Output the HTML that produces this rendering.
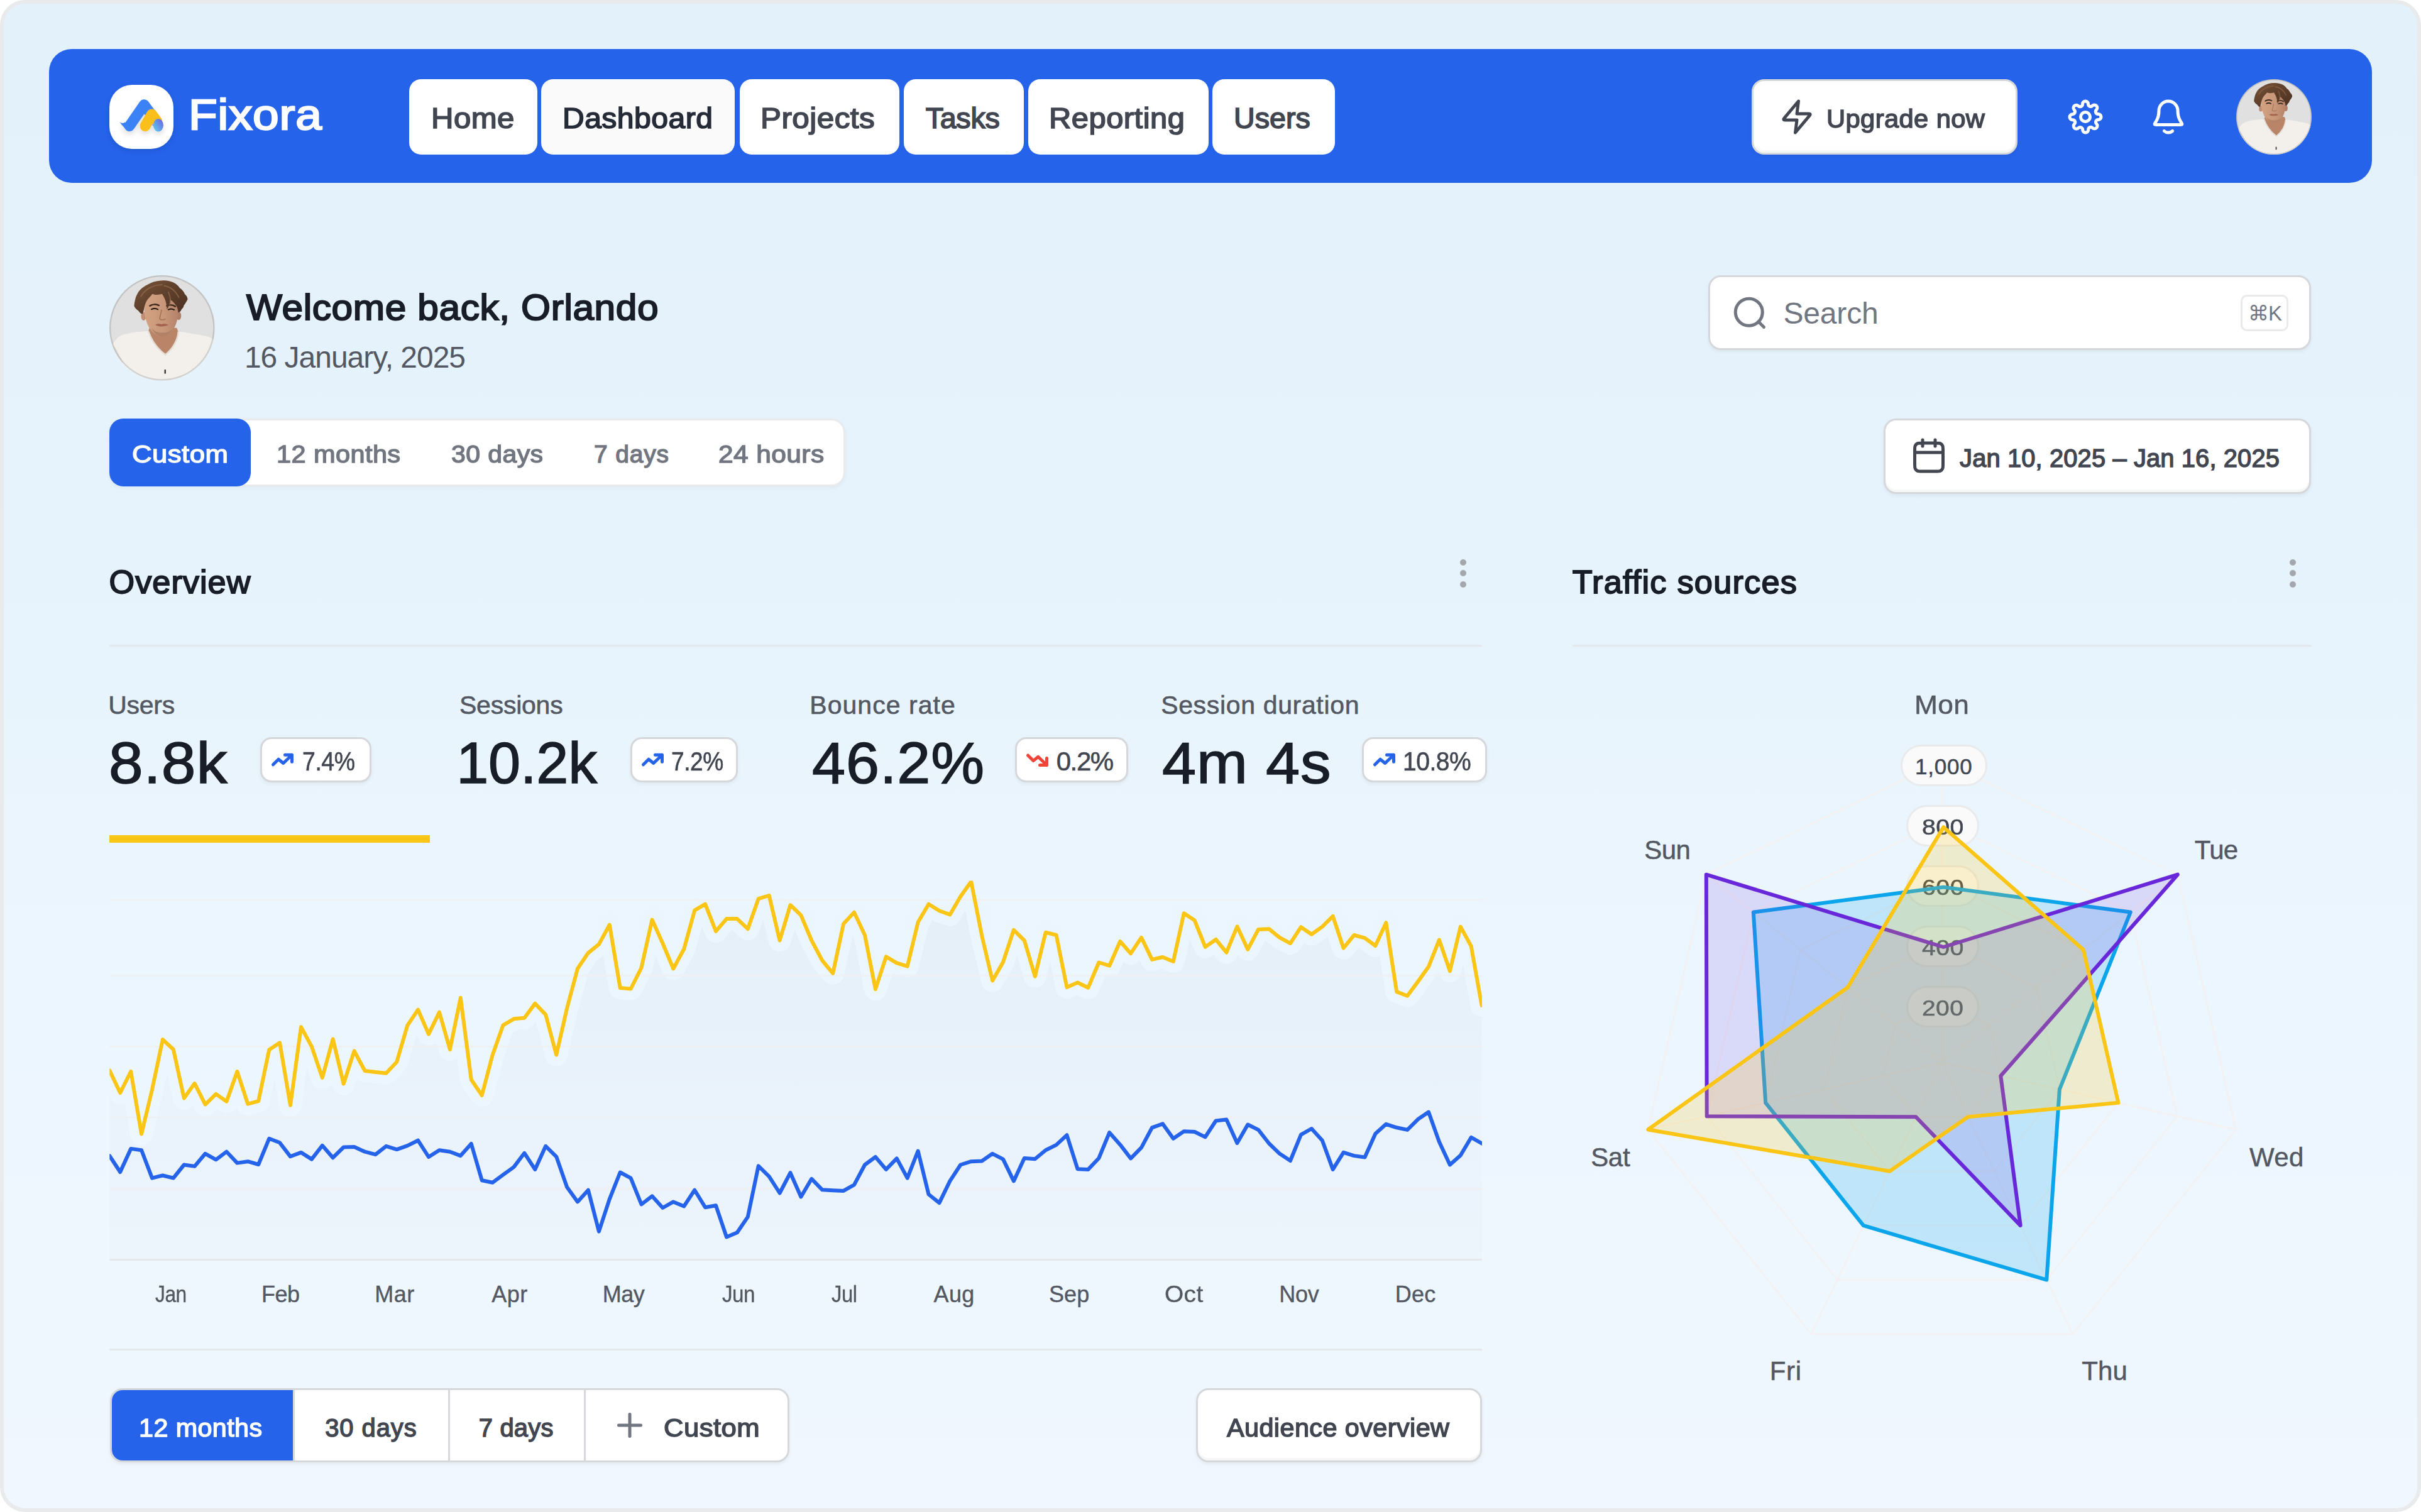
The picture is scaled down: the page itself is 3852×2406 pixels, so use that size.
<!DOCTYPE html>
<html lang="en">
<head>
<meta charset="utf-8">
<title>Fixora – Dashboard</title>
<style>
*{box-sizing:border-box;margin:0;padding:0}
html,body{width:3852px;height:2406px;overflow:hidden;background:#fff}
body{position:relative;font-family:'Liberation Sans', sans-serif;-webkit-font-smoothing:antialiased}
button{font:inherit;color:inherit;cursor:pointer;text-align:left}
a{text-decoration:none;color:inherit}
ul{list-style:none}
.abs,.t,.box{position:absolute}
.t{white-space:pre;display:block;font-style:normal}
.frame{position:absolute;left:0;top:0;width:3852px;height:2406px;border:6px solid #e9eaec;border-radius:40px;
  background:linear-gradient(180deg,#e3f1fb 0%,#e6f3fc 35%,#ecf6fe 65%,#f0f7fe 100%);overflow:hidden}
.nav{position:absolute;border-radius:36px;background:#2563eb}
.navbtn{position:absolute;border-radius:19px;background:#fff}
.btn{position:absolute;background:#fff;border:3px solid #d5d7da;border-radius:20px;
  box-shadow:inset 0 -4px 0 rgba(10,13,18,.04),0 3px 6px rgba(10,13,18,.05)}
.badge{position:absolute;background:#fff;border:3px solid #d5d7da;border-radius:18px;box-shadow:0 3px 6px rgba(10,13,18,.05)}
.hr{position:absolute;height:3px;background:#e4e7ec;border:0}
.dot{position:absolute;width:10px;height:10px;border-radius:50%;background:#a4a7ae}
.pill{position:absolute;height:66px;border-radius:33px;background:#fafafa;border:3px solid #e9eaeb}
svg{position:absolute;overflow:visible}
</style>
</head>
<body>

<div class="frame" style="left:0.0px;top:0.0px;width:3852.0px;height:2406.0px;">
<header class="nav" style="left:72.0px;top:72.0px;width:3696.0px;height:213.0px;">
<a class="abs" href="#" style="left:96.0px;top:57.0px;width:340.0px;height:102.0px;">
<span class="abs" style="left:0;top:0;width:102px;height:102px;border-radius:36px;background:#fff;box-shadow:0 3px 8px rgba(10,13,18,.12)"></span>
<svg style="left:0;top:0" width="102" height="102" viewBox="174 135 102 102">
 <defs><linearGradient id="lg1" x1="0" y1="1" x2="1" y2="0"><stop offset="0" stop-color="#5fd3f0"/><stop offset="1" stop-color="#6a5ae0"/></linearGradient>
 <filter id="lsh" x="-30%" y="-30%" width="160%" height="180%"><feDropShadow dx="0" dy="5" stdDeviation="4" flood-color="#0a0d12" flood-opacity=".13"/></filter></defs>
 <g filter="url(#lsh)">
 <path d="M206 200.500 L229.300 166.700 L249.300 194" stroke="#3b82f6" stroke-width="17" stroke-linecap="round" stroke-linejoin="round" fill="none"/>
 <path d="M190.300 194 Q195.500 197.800 199 194.300 L205 207.500 Q198.500 206 190.300 194 Z" fill="#3b82f6"/>
 <path d="M231 200.500 L241.500 182 L249.500 193" stroke="#fbbf1c" stroke-width="17" stroke-linecap="round" stroke-linejoin="round" fill="none"/>
 <ellipse cx="251.900" cy="199.200" rx="8" ry="10.300" fill="url(#lg1)"/>
 </g>
</svg>
<strong class="t" style="left:125.70px;top:5.97px;font-size:68.42px;line-height:82px;font-weight:400;color:#fff;letter-spacing:0.684px;-webkit-text-stroke:2.46px #fff;transform:scaleX(1.0952);transform-origin:0 0;">Fixora</strong>
</a>
<nav class="abs" style="left:573.0px;top:48.0px;width:1473.0px;height:120.0px;">
<a class="navbtn" href="#" style="left:0.0px;top:0.0px;width:203.5px;height:120.0px;background:#fff;">
<span class="t" style="left:34.86px;top:33.76px;font-size:46.56px;line-height:56px;font-weight:400;color:#414651;letter-spacing:0.466px;-webkit-text-stroke:1.68px #414651;transform:scaleX(1.0545);transform-origin:0 0;">Home</span>
</a>
<a class="navbtn" href="#" aria-current="page" style="left:210.3px;top:0.0px;width:308.2px;height:120.0px;background:#fafafa;">
<span class="t" style="left:34.03px;top:33.76px;font-size:46.56px;line-height:56px;font-weight:400;color:#252b37;letter-spacing:0.466px;-webkit-text-stroke:1.68px #252b37;transform:scaleX(1.0320);transform-origin:0 0;">Dashboard</span>
</a>
<a class="navbtn" href="#" style="left:525.5px;top:0.0px;width:254.0px;height:120.0px;background:#fff;">
<span class="t" style="left:33.94px;top:33.76px;font-size:46.56px;line-height:56px;font-weight:400;color:#414651;letter-spacing:0.466px;-webkit-text-stroke:1.68px #414651;transform:scaleX(1.0601);transform-origin:0 0;">Projects</span>
</a>
<a class="navbtn" href="#" style="left:786.5px;top:0.0px;width:191.1px;height:120.0px;background:#fff;">
<span class="t" style="left:35.19px;top:33.76px;font-size:46.56px;line-height:56px;font-weight:400;color:#414651;letter-spacing:-0.243px;-webkit-text-stroke:1.68px #414651;">Tasks</span>
</a>
<a class="navbtn" href="#" style="left:984.6px;top:0.0px;width:287.3px;height:120.0px;background:#fff;">
<span class="t" style="left:33.37px;top:33.76px;font-size:46.56px;line-height:56px;font-weight:400;color:#414651;letter-spacing:0.466px;-webkit-text-stroke:1.68px #414651;transform:scaleX(1.0501);transform-origin:0 0;">Reporting</span>
</a>
<a class="navbtn" href="#" style="left:1278.3px;top:0.0px;width:194.4px;height:120.0px;background:#fff;">
<span class="t" style="left:33.75px;top:33.76px;font-size:46.56px;line-height:56px;font-weight:400;color:#414651;letter-spacing:0.052px;-webkit-text-stroke:1.68px #414651;">Users</span>
</a>
</nav>
<button class="btn" type="button" style="left:2709.0px;top:48.0px;width:423.0px;height:120.0px;">
<svg style="left:39px;top:27px" width="60" height="60" viewBox="0 0 24 24" fill="none" stroke="#414651" stroke-width="2" stroke-linecap="round" stroke-linejoin="round"><path d="M13 2 4.09 12.69c-.35.42-.52.63-.53.8 0 .16.07.3.19.4.14.11.41.11.95.11H12l-1 8 8.91-10.69c.35-.42.52-.63.53-.8 0-.16-.07-.3-.19-.4-.14-.11-.41-.11-.95-.11H12l1-8Z"/></svg>
<span class="t" style="left:116.24px;top:36.28px;font-size:39.91px;line-height:48px;font-weight:400;color:#414651;letter-spacing:0.399px;-webkit-text-stroke:1.44px #414651;transform:scaleX(1.0436);transform-origin:0 0;">Upgrade now</span>
</button>
<button class="abs" type="button" aria-label="Settings" style="left:3200.0px;top:68.0px;width:80.0px;height:80.0px;background:none;border:0;">
<svg style="left:10px;top:10px" width="60" height="60" viewBox="0 0 24 24" fill="none" stroke="#fff" stroke-width="2" stroke-linecap="round" stroke-linejoin="round"><circle cx="12" cy="12" r="3"/><g transform="translate(12 12) scale(.909) translate(-12 -12)" stroke-width="2.2"><path d="M19.4 15a1.65 1.65 0 0 0 .33 1.82l.06.06a2 2 0 0 1 0 2.83 2 2 0 0 1-2.83 0l-.06-.06a1.65 1.65 0 0 0-1.82-.33 1.65 1.65 0 0 0-1 1.510V21a2 2 0 0 1-2 2 2 2 0 0 1-2-2v-.09A1.65 1.65 0 0 0 9 19.4a1.65 1.65 0 0 0-1.82.33l-.06.06a2 2 0 0 1-2.83 0 2 2 0 0 1 0-2.83l.06-.06a1.65 1.65 0 0 0 .33-1.82 1.65 1.65 0 0 0-1.510-1H3a2 2 0 0 1-2-2 2 2 0 0 1 2-2h.09A1.65 1.65 0 0 0 4.6 9a1.65 1.65 0 0 0-.33-1.82l-.06-.06a2 2 0 0 1 0-2.83 2 2 0 0 1 2.83 0l.06.06a1.65 1.65 0 0 0 1.82.33H9a1.65 1.65 0 0 0 1-1.510V3a2 2 0 0 1 2-2 2 2 0 0 1 2 2v.09a1.65 1.65 0 0 0 1 1.510 1.65 1.65 0 0 0 1.82-.33l.06-.06a2 2 0 0 1 2.83 0 2 2 0 0 1 0 2.83l-.06.06a1.65 1.65 0 0 0-.33 1.82V9a1.65 1.65 0 0 0 1.510 1H21a2 2 0 0 1 2 2 2 2 0 0 1-2 2h-.09a1.65 1.65 0 0 0-1.510 1z"/></g></svg>
</button>
<button class="abs" type="button" aria-label="Notifications" style="left:3332.0px;top:68.0px;width:80.0px;height:80.0px;background:none;border:0;">
<svg style="left:10px;top:10px" width="60" height="60" viewBox="0 0 24 24" fill="none" stroke="#fff" stroke-width="2" stroke-linecap="round" stroke-linejoin="round"><path d="M9.35 21c.7.62 1.63 1 2.65 1s1.94-.38 2.65-1M18 8A6 6 0 1 0 6 8c0 3.09-.78 5.2-1.65 6.6-.73 1.18-1.1 1.77-1.09 1.94.02.18.06.25.2.36.14.1.73.1 1.93.1h13.22c1.2 0 1.8 0 1.930-.1.14-.11.18-.18.2-.36.01-.17-.36-.76-1.090-1.940C18.780 13.200 18 11.090 18 8Z"/></svg>
</button>
<svg role="img" aria-label="Orlando" style="left:3480.0px;top:47.7px" width="120" height="120" viewBox="0 0 100 100">
 <defs><clipPath id="cpa"><circle cx="50" cy="50" r="50"/></clipPath>
 <linearGradient id="ska" x1="0" y1="0" x2="1" y2="0"><stop offset="0" stop-color="#d2a283"/><stop offset=".6" stop-color="#c79678"/><stop offset="1" stop-color="#b5826a"/></linearGradient>
 <linearGradient id="hra" x1="0" y1="0" x2="1" y2="1"><stop offset="0" stop-color="#7a543a"/><stop offset=".5" stop-color="#5e3f2b"/><stop offset="1" stop-color="#4a3021"/></linearGradient></defs>
 <g clip-path="url(#cpa)">
  <rect width="100" height="100" fill="#e0e0e0"/>
  <path d="M3 66 C6 60 10 57 15 56 C22 54 30 53.500 37 53 L65 53.500 C73 54 82 56 90 57.500 C95 58.500 98 60 100 62 L100 100 L0 100 Z" fill="#f3f0ec"/>
  <path d="M3 66 C9 72 14 84 18 100 L0 100 Z M100 62 C95 70 90 84 88 100 L100 100 Z" fill="#e6e1db"/>
  <path d="M38 50 L64 50 L65.500 54 C65 62 60 70 53.200 75.500 C46 70 40 62 37 53.500 Z" fill="#b98468"/>
  <path d="M37 53 C40 62 46 70 53.200 75.500 C60 70 65 62 65.500 53.500" fill="none" stroke="#e3ddd6" stroke-width="1.500"/>
  <ellipse cx="32.500" cy="39" rx="2.400" ry="4" fill="#c08e72"/><ellipse cx="65.800" cy="38.500" rx="2.400" ry="4" fill="#b07e64"/>
  <path d="M33 30 C33 20 40 15 50 15 C60 15 66 21 65.500 31 C65.500 40 64 46 61 51 C58 55.500 54 58 50 58 C45.500 58 41 55 38 50 C35 45 33 38 33 30 Z" fill="url(#ska)"/>
  <path d="M40 50 C44 56 56 56 60 51 C58 55.500 54 58 50 58 C45.500 58 42 55 40 50 Z" fill="#a97760" opacity=".7"/>
  <path d="M38.500 29 C41 27.300 44.500 27.300 47 28.600 M54.500 29 C57.500 27.800 60.500 28.200 62.500 29.600" stroke="#3f2a1d" stroke-width="1.500" fill="none" stroke-linecap="round"/>
  <path d="M40 32.300 C42 31.400 44.500 31.500 46 32.500 M56 32.600 C58 31.700 60 31.900 61.500 32.800" stroke="#2e2018" stroke-width="1.300" fill="none" stroke-linecap="round"/>
  <path d="M49.500 33 C49 37 47.500 40 47.800 41.500 C49 42.600 51.500 42.600 53 41.600" stroke="#a8745c" stroke-width="1" fill="none" stroke-linecap="round"/>
  <path d="M43.500 47 C46 45.600 48 46 49.500 46.500 C51 46 53.500 45.800 56 47.200 C53 49 46.500 49.200 43.500 47 Z" fill="#a4634f"/>
  <path d="M23.500 29.200 C24 24 25.500 19 26.200 18.500 C28 14 31.500 11.500 35 9.500 C40 6.500 45 5 50 5 C54 4.600 58 5.500 60.800 6.900 C64 8.500 66 10.500 66.900 12.300 C69 13.500 71 16 71.500 17.700 C73.500 19.500 74.500 21.500 74.200 23.100 C73 25.500 72 27 70.800 28.500 C70.500 30.500 69.500 31.500 68.500 32.300 C68 34 66.800 35 65.400 35.400 C65 32 64.500 30 63.100 28.500 C61.500 26 60 24.500 57.700 23.100 C57.500 27 56.500 30 54.600 32.300 C54.500 27 53 22 50 17.700 C47 18.500 44 19 40.800 17.700 C39 20 37.500 21.500 36.200 23.100 C34.500 25.500 33.800 28 33.100 30.800 C32.800 33 32.300 35 31.500 36.900 C30 36.500 28.800 35.500 27.700 33.800 C26 32.800 24.500 31.200 23.500 29.200 Z" fill="url(#hra)"/>
  <path d="M30 20 C34 13 42 9 50 9 M52 10 C58 11 63 15 66 21 M56 16 C58 20 58.500 24 57.500 28" stroke="#94694a" stroke-width="1.100" fill="none" stroke-linecap="round" opacity=".75"/>
  <rect x="52.200" y="89.500" width="1.500" height="4" rx=".5" fill="#3b3f4a"/>
 </g>
 <circle cx="50" cy="50" r="49.300" fill="none" stroke="rgba(0,0,0,.13)" stroke-width="1.400"/>
</svg>
</header>
<main>
<div class="abs" style="left:168.0px;top:424.0px;width:1200.0px;height:190.0px;">
<svg role="img" aria-label="Orlando" style="left:0.2px;top:7.9px" width="167.6" height="167.6" viewBox="0 0 100 100">
 <defs><clipPath id="cpb"><circle cx="50" cy="50" r="50"/></clipPath>
 <linearGradient id="skb" x1="0" y1="0" x2="1" y2="0"><stop offset="0" stop-color="#d2a283"/><stop offset=".6" stop-color="#c79678"/><stop offset="1" stop-color="#b5826a"/></linearGradient>
 <linearGradient id="hrb" x1="0" y1="0" x2="1" y2="1"><stop offset="0" stop-color="#7a543a"/><stop offset=".5" stop-color="#5e3f2b"/><stop offset="1" stop-color="#4a3021"/></linearGradient></defs>
 <g clip-path="url(#cpb)">
  <rect width="100" height="100" fill="#e0e0e0"/>
  <path d="M3 66 C6 60 10 57 15 56 C22 54 30 53.500 37 53 L65 53.500 C73 54 82 56 90 57.500 C95 58.500 98 60 100 62 L100 100 L0 100 Z" fill="#f3f0ec"/>
  <path d="M3 66 C9 72 14 84 18 100 L0 100 Z M100 62 C95 70 90 84 88 100 L100 100 Z" fill="#e6e1db"/>
  <path d="M38 50 L64 50 L65.500 54 C65 62 60 70 53.200 75.500 C46 70 40 62 37 53.500 Z" fill="#b98468"/>
  <path d="M37 53 C40 62 46 70 53.200 75.500 C60 70 65 62 65.500 53.500" fill="none" stroke="#e3ddd6" stroke-width="1.500"/>
  <ellipse cx="32.500" cy="39" rx="2.400" ry="4" fill="#c08e72"/><ellipse cx="65.800" cy="38.500" rx="2.400" ry="4" fill="#b07e64"/>
  <path d="M33 30 C33 20 40 15 50 15 C60 15 66 21 65.500 31 C65.500 40 64 46 61 51 C58 55.500 54 58 50 58 C45.500 58 41 55 38 50 C35 45 33 38 33 30 Z" fill="url(#skb)"/>
  <path d="M40 50 C44 56 56 56 60 51 C58 55.500 54 58 50 58 C45.500 58 42 55 40 50 Z" fill="#a97760" opacity=".7"/>
  <path d="M38.500 29 C41 27.300 44.500 27.300 47 28.600 M54.500 29 C57.500 27.800 60.500 28.200 62.500 29.600" stroke="#3f2a1d" stroke-width="1.500" fill="none" stroke-linecap="round"/>
  <path d="M40 32.300 C42 31.400 44.500 31.500 46 32.500 M56 32.600 C58 31.700 60 31.900 61.500 32.800" stroke="#2e2018" stroke-width="1.300" fill="none" stroke-linecap="round"/>
  <path d="M49.500 33 C49 37 47.500 40 47.800 41.500 C49 42.600 51.500 42.600 53 41.600" stroke="#a8745c" stroke-width="1" fill="none" stroke-linecap="round"/>
  <path d="M43.500 47 C46 45.600 48 46 49.500 46.500 C51 46 53.500 45.800 56 47.200 C53 49 46.500 49.200 43.500 47 Z" fill="#a4634f"/>
  <path d="M23.500 29.200 C24 24 25.500 19 26.200 18.500 C28 14 31.500 11.500 35 9.500 C40 6.500 45 5 50 5 C54 4.600 58 5.500 60.800 6.900 C64 8.500 66 10.500 66.900 12.300 C69 13.500 71 16 71.500 17.700 C73.500 19.500 74.500 21.500 74.200 23.100 C73 25.500 72 27 70.800 28.500 C70.500 30.500 69.500 31.500 68.500 32.300 C68 34 66.800 35 65.400 35.400 C65 32 64.500 30 63.100 28.500 C61.500 26 60 24.500 57.700 23.100 C57.500 27 56.500 30 54.600 32.300 C54.500 27 53 22 50 17.700 C47 18.500 44 19 40.800 17.700 C39 20 37.500 21.500 36.200 23.100 C34.500 25.500 33.800 28 33.100 30.800 C32.800 33 32.300 35 31.500 36.900 C30 36.500 28.800 35.500 27.700 33.800 C26 32.800 24.500 31.200 23.500 29.200 Z" fill="url(#hrb)"/>
  <path d="M30 20 C34 13 42 9 50 9 M52 10 C58 11 63 15 66 21 M56 16 C58 20 58.500 24 57.500 28" stroke="#94694a" stroke-width="1.100" fill="none" stroke-linecap="round" opacity=".75"/>
  <rect x="52.200" y="89.500" width="1.500" height="4" rx=".5" fill="#3b3f4a"/>
 </g>
 <circle cx="50" cy="50" r="49.300" fill="none" stroke="rgba(0,0,0,.13)" stroke-width="1.400"/>
</svg>
<h1 class="t" style="left:218.42px;top:24.45px;font-size:57.97px;line-height:70px;font-weight:400;color:#181d27;letter-spacing:0.580px;-webkit-text-stroke:2.09px #181d27;transform:scaleX(1.0421);transform-origin:0 0;">Welcome back, Orlando</h1>
<p class="t" style="left:214.94px;top:109.50px;font-size:48px;line-height:58px;font-weight:400;color:#535862;letter-spacing:-1.021px;">16 January, 2025</p>
</div>
<div class="abs" role="tablist" style="left:168.0px;top:660.0px;width:1171.0px;height:108.0px;border-radius:22px;background:#fff;border:3px solid #e9eaeb;box-shadow:0 3px 6px rgba(10,13,18,.04);">
<button class="abs" type="button" role="tab" aria-selected="true" style="left:-3.0px;top:-3.0px;width:225.0px;height:108.0px;border-radius:22px;background:#2563eb;border:0;">
<span class="t" style="left:35.56px;top:33.30px;font-size:38.96px;line-height:47px;font-weight:400;color:#fff;letter-spacing:0.390px;-webkit-text-stroke:1.4px #fff;transform:scaleX(1.1230);transform-origin:0 0;">Custom</span>
</button>
<button class="abs" type="button" role="tab" style="left:222.0px;top:0.0px;width:280.0px;height:102.0px;background:none;border:0;">
<span class="t" style="left:40.58px;top:30.30px;font-size:38.96px;line-height:47px;font-weight:400;color:#717680;letter-spacing:0.390px;-webkit-text-stroke:1.4px #717680;transform:scaleX(1.0655);transform-origin:0 0;">12 months</span>
</button>
<button class="abs" type="button" role="tab" style="left:502.0px;top:0.0px;width:226.0px;height:102.0px;background:none;border:0;">
<span class="t" style="left:38.78px;top:30.30px;font-size:38.96px;line-height:47px;font-weight:400;color:#717680;letter-spacing:0.390px;-webkit-text-stroke:1.4px #717680;transform:scaleX(1.0524);transform-origin:0 0;">30 days</span>
</button>
<button class="abs" type="button" role="tab" style="left:728.0px;top:0.0px;width:199.0px;height:102.0px;background:none;border:0;">
<span class="t" style="left:40.00px;top:30.30px;font-size:38.96px;line-height:47px;font-weight:400;color:#717680;letter-spacing:0.843px;-webkit-text-stroke:1.4px #717680;">7 days</span>
</button>
<button class="abs" type="button" role="tab" style="left:927.0px;top:0.0px;width:238.0px;height:102.0px;background:none;border:0;">
<span class="t" style="left:38.53px;top:30.30px;font-size:38.96px;line-height:47px;font-weight:400;color:#717680;letter-spacing:0.390px;-webkit-text-stroke:1.4px #717680;transform:scaleX(1.0894);transform-origin:0 0;">24 hours</span>
</button>
</div>
<label class="abs" style="left:2712.0px;top:432.0px;width:959.0px;height:119.0px;border-radius:20px;background:#fff;border:3px solid #d5d7da;box-shadow:0 3px 6px rgba(10,13,18,.05);">
<svg style="left:33px;top:27px" width="60" height="60" viewBox="0 0 24 24" fill="none" stroke="#717680" stroke-width="2" stroke-linecap="round" stroke-linejoin="round"><circle cx="11.5" cy="11.5" r="8.6"/><path d="m21 21-3.500-3.500"/></svg>
<span class="t" style="left:116.42px;top:29.30px;font-size:48px;line-height:58px;font-weight:400;color:#717680;letter-spacing:-0.159px;">Search</span>
<kbd class="abs" style="left:844.0px;top:28.0px;width:76.0px;height:58.0px;border-radius:10px;background:#fff;border:3px solid #e9eaeb;">
<span class="t" style="left:9px;top:7px;font-size:33px;line-height:40px;color:#717680;font-family:'Liberation Sans','DejaVu Sans',sans-serif;letter-spacing:-1px">⌘K</span>
</kbd>
</label>
<button class="btn" type="button" style="left:2991.0px;top:660.0px;width:680.0px;height:120.0px;">
<svg style="left:39px;top:26.4px" width="60" height="60" viewBox="0 0 24 24" fill="none" stroke="#414651" stroke-width="2" stroke-linecap="round" stroke-linejoin="round"><path d="M21 10H3M16 2v4M8 2v4M7.800 22h8.400c1.680 0 2.520 0 3.160-.33a3 3 0 0 0 1.310-1.310c.33-.64.33-1.480.33-3.160V8.800c0-1.680 0-2.520-.33-3.160a3 3 0 0 0-1.310-1.310C18.720 4 17.880 4 16.200 4H7.800c-1.680 0-2.520 0-3.160.33a3 3 0 0 0-1.310 1.310C3 6.280 3 7.120 3 8.800v8.400c0 1.680 0 2.520.33 3.160a3 3 0 0 0 1.310 1.310c.64.33 1.480.33 3.160.33Z"/></svg>
<span class="t" style="left:118.10px;top:36.28px;font-size:39.91px;line-height:48px;font-weight:400;color:#414651;letter-spacing:0.112px;-webkit-text-stroke:1.44px #414651;">Jan 10, 2025 – Jan 16, 2025</span>
</button>
<section class="abs" style="left:168.0px;top:854.0px;width:2200.0px;height:1500.0px;">
<h2 class="t" style="left:-0.54px;top:34.56px;font-size:52.27px;line-height:63px;font-weight:400;color:#181d27;letter-spacing:1.019px;-webkit-text-stroke:1.88px #181d27;">Overview</h2>
<button class="abs" type="button" aria-label="Overview options" style="left:2123.7px;top:22.0px;width:60.0px;height:60.0px;background:none;border:0;"><i class="dot" style="left:25.0px;top:7.8px"></i><i class="dot" style="left:25.0px;top:25.3px"></i><i class="dot" style="left:25.0px;top:42.6px"></i></button>
<hr class="hr" style="left:0px;top:165.5px;width:2184px">
<article class="abs" style="left:0.0px;top:230.0px;width:530.0px;height:252.0px;">
<h3 class="t" style="left:-1.86px;top:8.20px;font-size:41px;line-height:49px;font-weight:400;color:#535862;letter-spacing:-0.256px;-webkit-text-stroke:0.6px #535862;">Users</h3>
<strong class="t" style="left:-0.67px;top:68.75px;font-size:91.84px;line-height:110px;font-weight:400;color:#181d27;letter-spacing:0.918px;-webkit-text-stroke:1.49px #181d27;transform:scaleX(1.0691);transform-origin:0 0;">8.8k</strong>
<span class="badge" style="left:240.3px;top:83.0px;width:176.3px;height:72.0px;">
<svg style="left:13.2px;top:15px" width="40" height="40" viewBox="0 0 40 40" fill="none" stroke="#2563eb" stroke-width="5" stroke-linecap="round" stroke-linejoin="round"><path d="M4.500 25.800 13.100 17.200 20.800 23.500 34.500 10.300M23.500 10.300h11v11"/></svg>
<span class="t" style="left:63.75px;top:11.00px;font-size:42px;line-height:50px;font-weight:400;color:#414651;letter-spacing:-0.500px;-webkit-text-stroke:0.6px #414651;transform:scaleX(0.8916);transform-origin:0 0;">7.4%</span>
</span>
<i class="abs" style="left:0px;top:239px;width:510px;height:12px;background:#fac515"></i>
</article>
<article class="abs" style="left:558.0px;top:230.0px;width:530.0px;height:252.0px;">
<h3 class="t" style="left:-1.06px;top:8.20px;font-size:41px;line-height:49px;font-weight:400;color:#535862;letter-spacing:-0.232px;-webkit-text-stroke:0.6px #535862;">Sessions</h3>
<strong class="t" style="left:-5.75px;top:68.75px;font-size:91.84px;line-height:110px;font-weight:400;color:#181d27;letter-spacing:-0.202px;-webkit-text-stroke:1.49px #181d27;">10.2k</strong>
<span class="badge" style="left:271.0px;top:83.0px;width:171.0px;height:72.0px;">
<svg style="left:13.2px;top:15px" width="40" height="40" viewBox="0 0 40 40" fill="none" stroke="#2563eb" stroke-width="5" stroke-linecap="round" stroke-linejoin="round"><path d="M4.500 25.800 13.100 17.200 20.800 23.500 34.500 10.300M23.500 10.300h11v11"/></svg>
<span class="t" style="left:61.56px;top:11.00px;font-size:42px;line-height:50px;font-weight:400;color:#414651;letter-spacing:-0.500px;-webkit-text-stroke:0.6px #414651;transform:scaleX(0.8839);transform-origin:0 0;">7.2%</span>
</span>
</article>
<article class="abs" style="left:1116.0px;top:230.0px;width:530.0px;height:252.0px;">
<h3 class="t" style="left:-1.76px;top:8.20px;font-size:41px;line-height:49px;font-weight:400;color:#535862;letter-spacing:1.049px;-webkit-text-stroke:0.6px #535862;">Bounce rate</h3>
<strong class="t" style="left:1.59px;top:68.75px;font-size:91.84px;line-height:110px;font-weight:400;color:#181d27;letter-spacing:0.918px;-webkit-text-stroke:1.49px #181d27;transform:scaleX(1.0377);transform-origin:0 0;">46.2%</strong>
<span class="badge" style="left:325.0px;top:83.0px;width:180.4px;height:72.0px;">
<svg style="left:13.2px;top:15px" width="40" height="40" viewBox="0 0 40 40" fill="none" stroke="#f04438" stroke-width="5" stroke-linecap="round" stroke-linejoin="round"><path d="M4.500 11 13.100 19.600 20.800 13.300 34.500 26.500M23.500 26.500h11v-11"/></svg>
<span class="t" style="left:62.66px;top:11.00px;font-size:42px;line-height:50px;font-weight:400;color:#414651;letter-spacing:-1.399px;-webkit-text-stroke:0.6px #414651;">0.2%</span>
</span>
</article>
<article class="abs" style="left:1674.0px;top:230.0px;width:530.0px;height:252.0px;">
<h3 class="t" style="left:-0.86px;top:8.20px;font-size:41px;line-height:49px;font-weight:400;color:#535862;letter-spacing:0.660px;-webkit-text-stroke:0.6px #535862;">Session duration</h3>
<strong class="t" style="left:0.56px;top:68.75px;font-size:91.84px;line-height:110px;font-weight:400;color:#181d27;letter-spacing:0.918px;-webkit-text-stroke:1.49px #181d27;transform:scaleX(1.0587);transform-origin:0 0;">4m 4s</strong>
<span class="badge" style="left:319.0px;top:83.0px;width:198.7px;height:72.0px;">
<svg style="left:13.2px;top:15px" width="40" height="40" viewBox="0 0 40 40" fill="none" stroke="#2563eb" stroke-width="5" stroke-linecap="round" stroke-linejoin="round"><path d="M4.500 25.800 13.100 17.200 20.800 23.500 34.500 10.300M23.500 10.300h11v11"/></svg>
<span class="t" style="left:62.31px;top:11.00px;font-size:42px;line-height:50px;font-weight:400;color:#414651;letter-spacing:-0.500px;-webkit-text-stroke:0.6px #414651;transform:scaleX(0.9293);transform-origin:0 0;">10.8%</span>
</span>
</article>
<figure class="abs" style="left:0.0px;top:520.0px;width:2190.0px;height:720.0px;">
<svg role="img" aria-label="Users over 12 months" style="left:-174px;top:-1380px" width="3852" height="2406" viewBox="0 0 3852 2406" fill="none">
 <defs>
  <clipPath id="cpc"><rect x="174.3" y="1401.5" width="2183.7" height="605.0"/></clipPath>
  <linearGradient id="ga" x1="0" y1="0" x2="0" y2="1"><stop offset="0" stop-color="#475467" stop-opacity=".045"/><stop offset=".55" stop-color="#475467" stop-opacity=".022"/><stop offset="1" stop-color="#475467" stop-opacity=".012"/></linearGradient>
  <linearGradient id="gh" gradientUnits="userSpaceOnUse" x1="0" y1="1400" x2="0" y2="2004"><stop offset="0" stop-color="#ebf5fe"/><stop offset=".268" stop-color="#ecf6fe"/><stop offset="1" stop-color="#eef7fe"/></linearGradient>
 </defs>
 <g clip-path="url(#cpc)">
  <polygon points="174.3,2004.5 174.3,1703.4 191.2,1739.0 208.2,1705.0 225.1,1804.5 242.0,1733.9 258.9,1654.1 275.9,1670.0 292.8,1747.6 309.7,1724.1 326.6,1757.6 343.6,1740.9 360.5,1752.7 377.4,1705.0 394.3,1756.7 411.2,1752.1 428.2,1670.6 445.1,1659.3 462.0,1758.8 479.0,1634.1 495.9,1665.4 512.8,1715.0 529.7,1653.5 546.7,1724.7 563.6,1672.4 580.5,1704.0 597.4,1705.9 614.4,1707.7 631.3,1689.7 648.2,1631.9 665.1,1606.7 682.0,1645.6 699.0,1610.6 715.9,1670.0 732.8,1587.8 749.8,1718.0 766.7,1743.0 783.6,1679.1 800.5,1631.3 817.5,1621.3 834.4,1619.7 851.3,1596.9 868.2,1614.6 885.2,1678.5 902.1,1604.5 919.0,1541.2 935.9,1516.3 952.9,1502.6 969.8,1471.6 986.7,1572.0 1003.6,1573.5 1020.5,1540.0 1037.5,1463.6 1054.4,1501.1 1071.3,1541.5 1088.2,1510.2 1105.2,1448.7 1122.1,1438.7 1139.0,1481.9 1156.0,1462.1 1172.9,1462.1 1189.8,1478.2 1206.7,1430.2 1223.7,1425.0 1240.6,1496.5 1257.5,1440.2 1274.4,1456.3 1291.3,1496.5 1308.3,1528.5 1325.2,1548.8 1342.1,1470.0 1359.0,1451.8 1376.0,1488.0 1392.9,1574.1 1409.8,1522.4 1426.8,1532.4 1443.7,1537.6 1460.6,1467.6 1477.5,1438.7 1494.5,1449.3 1511.4,1455.4 1528.3,1426.5 1545.2,1402.8 1562.2,1488.9 1579.1,1560.4 1596.0,1530.9 1612.9,1479.8 1629.8,1496.5 1646.8,1553.7 1663.7,1483.7 1680.6,1488.0 1697.5,1571.1 1714.5,1563.5 1731.4,1571.7 1748.3,1531.5 1765.2,1536.7 1782.2,1498.0 1799.1,1517.2 1816.0,1491.9 1833.0,1526.9 1849.9,1523.0 1866.8,1530.0 1883.7,1453.3 1900.7,1464.6 1917.6,1506.9 1934.5,1495.0 1951.4,1515.7 1968.4,1474.3 1985.3,1510.8 2002.2,1478.9 2019.1,1478.2 2036.0,1491.9 2053.0,1501.1 2069.9,1475.2 2086.8,1486.8 2103.8,1474.6 2120.7,1457.9 2137.6,1508.7 2154.5,1488.0 2171.5,1492.6 2188.4,1505.0 2205.3,1468.2 2222.2,1578.1 2239.2,1584.8 2256.1,1561.9 2273.0,1538.2 2289.9,1495.6 2306.9,1545.2 2323.8,1474.6 2340.7,1505.6 2357.6,1600.0 2358,2004.5" fill="url(#ga)"/>
  <polyline points="174.3,1703.4 191.2,1739.0 208.2,1705.0 225.1,1804.5 242.0,1733.9 258.9,1654.1 275.9,1670.0 292.8,1747.6 309.7,1724.1 326.6,1757.6 343.6,1740.9 360.5,1752.7 377.4,1705.0 394.3,1756.7 411.2,1752.1 428.2,1670.6 445.1,1659.3 462.0,1758.8 479.0,1634.1 495.9,1665.4 512.8,1715.0 529.7,1653.5 546.7,1724.7 563.6,1672.4 580.5,1704.0 597.4,1705.9 614.4,1707.7 631.3,1689.7 648.2,1631.9 665.1,1606.7 682.0,1645.6 699.0,1610.6 715.9,1670.0 732.8,1587.8 749.8,1718.0 766.7,1743.0 783.6,1679.1 800.5,1631.3 817.5,1621.3 834.4,1619.7 851.3,1596.9 868.2,1614.6 885.2,1678.5 902.1,1604.5 919.0,1541.2 935.9,1516.3 952.9,1502.6 969.8,1471.6 986.7,1572.0 1003.6,1573.5 1020.5,1540.0 1037.5,1463.6 1054.4,1501.1 1071.3,1541.5 1088.2,1510.2 1105.2,1448.7 1122.1,1438.7 1139.0,1481.9 1156.0,1462.1 1172.9,1462.1 1189.8,1478.2 1206.7,1430.2 1223.7,1425.0 1240.6,1496.5 1257.5,1440.2 1274.4,1456.3 1291.3,1496.5 1308.3,1528.5 1325.2,1548.8 1342.1,1470.0 1359.0,1451.8 1376.0,1488.0 1392.9,1574.1 1409.8,1522.4 1426.8,1532.4 1443.7,1537.6 1460.6,1467.6 1477.5,1438.7 1494.5,1449.3 1511.4,1455.4 1528.3,1426.5 1545.2,1402.8 1562.2,1488.9 1579.1,1560.4 1596.0,1530.9 1612.9,1479.8 1629.8,1496.5 1646.8,1553.7 1663.7,1483.7 1680.6,1488.0 1697.5,1571.1 1714.5,1563.5 1731.4,1571.7 1748.3,1531.5 1765.2,1536.7 1782.2,1498.0 1799.1,1517.2 1816.0,1491.9 1833.0,1526.9 1849.9,1523.0 1866.8,1530.0 1883.7,1453.3 1900.7,1464.6 1917.6,1506.9 1934.5,1495.0 1951.4,1515.7 1968.4,1474.3 1985.3,1510.8 2002.2,1478.9 2019.1,1478.2 2036.0,1491.9 2053.0,1501.1 2069.9,1475.2 2086.8,1486.8 2103.8,1474.6 2120.7,1457.9 2137.6,1508.7 2154.5,1488.0 2171.5,1492.6 2188.4,1505.0 2205.3,1468.2 2222.2,1578.1 2239.2,1584.8 2256.1,1561.9 2273.0,1538.2 2289.9,1495.6 2306.9,1545.2 2323.8,1474.6 2340.7,1505.6 2357.6,1600.0" stroke="url(#gh)" stroke-width="36" stroke-linejoin="round" stroke-linecap="round"/>
  <line x1="174.3" x2="2358" y1="1431.8" y2="1431.8" stroke="#f0f0f2" stroke-width="2.5"/><line x1="174.3" x2="2358" y1="1552.6" y2="1552.6" stroke="#f0f0f2" stroke-width="2.5"/><line x1="174.3" x2="2358" y1="1665.2" y2="1665.2" stroke="#f0f0f2" stroke-width="2.5"/><line x1="174.3" x2="2358" y1="1778.2" y2="1778.2" stroke="#f0f0f2" stroke-width="2.5"/><line x1="174.3" x2="2358" y1="1891.2" y2="1891.2" stroke="#f0f0f2" stroke-width="2.5"/>
  <polyline points="174.3,1703.4 191.2,1739.0 208.2,1705.0 225.1,1804.5 242.0,1733.9 258.9,1654.1 275.9,1670.0 292.8,1747.6 309.7,1724.1 326.6,1757.6 343.6,1740.9 360.5,1752.7 377.4,1705.0 394.3,1756.7 411.2,1752.1 428.2,1670.6 445.1,1659.3 462.0,1758.8 479.0,1634.1 495.9,1665.4 512.8,1715.0 529.7,1653.5 546.7,1724.7 563.6,1672.4 580.5,1704.0 597.4,1705.9 614.4,1707.7 631.3,1689.7 648.2,1631.9 665.1,1606.7 682.0,1645.6 699.0,1610.6 715.9,1670.0 732.8,1587.8 749.8,1718.0 766.7,1743.0 783.6,1679.1 800.5,1631.3 817.5,1621.3 834.4,1619.7 851.3,1596.9 868.2,1614.6 885.2,1678.5 902.1,1604.5 919.0,1541.2 935.9,1516.3 952.9,1502.6 969.8,1471.6 986.7,1572.0 1003.6,1573.5 1020.5,1540.0 1037.5,1463.6 1054.4,1501.1 1071.3,1541.5 1088.2,1510.2 1105.2,1448.7 1122.1,1438.7 1139.0,1481.9 1156.0,1462.1 1172.9,1462.1 1189.8,1478.2 1206.7,1430.2 1223.7,1425.0 1240.6,1496.5 1257.5,1440.2 1274.4,1456.3 1291.3,1496.5 1308.3,1528.5 1325.2,1548.8 1342.1,1470.0 1359.0,1451.8 1376.0,1488.0 1392.9,1574.1 1409.8,1522.4 1426.8,1532.4 1443.7,1537.6 1460.6,1467.6 1477.5,1438.7 1494.5,1449.3 1511.4,1455.4 1528.3,1426.5 1545.2,1402.8 1562.2,1488.9 1579.1,1560.4 1596.0,1530.9 1612.9,1479.8 1629.8,1496.5 1646.8,1553.7 1663.7,1483.7 1680.6,1488.0 1697.5,1571.1 1714.5,1563.5 1731.4,1571.7 1748.3,1531.5 1765.2,1536.7 1782.2,1498.0 1799.1,1517.2 1816.0,1491.9 1833.0,1526.9 1849.9,1523.0 1866.8,1530.0 1883.7,1453.3 1900.7,1464.6 1917.6,1506.9 1934.5,1495.0 1951.4,1515.7 1968.4,1474.3 1985.3,1510.8 2002.2,1478.9 2019.1,1478.2 2036.0,1491.9 2053.0,1501.1 2069.9,1475.2 2086.8,1486.8 2103.8,1474.6 2120.7,1457.9 2137.6,1508.7 2154.5,1488.0 2171.5,1492.6 2188.4,1505.0 2205.3,1468.2 2222.2,1578.1 2239.2,1584.8 2256.1,1561.9 2273.0,1538.2 2289.9,1495.6 2306.9,1545.2 2323.8,1474.6 2340.7,1505.6 2357.6,1600.0" stroke="#fac515" stroke-width="6" stroke-linejoin="round" stroke-linecap="round"/>
  <polyline points="174.3,1839.1 191.2,1865.0 208.2,1827.9 225.1,1830.3 242.0,1874.6 258.9,1870.5 275.9,1874.6 292.8,1853.5 309.7,1855.9 326.6,1835.8 343.6,1845.3 360.5,1832.7 377.4,1850.6 394.3,1848.2 411.2,1853.0 428.2,1811.8 445.1,1818.3 462.0,1840.3 479.0,1833.9 495.9,1844.6 512.8,1822.8 529.7,1842.2 546.7,1825.5 563.6,1825.0 580.5,1832.7 597.4,1837.2 614.4,1823.8 631.3,1829.1 648.2,1823.1 665.1,1814.7 682.0,1841.0 699.0,1830.3 715.9,1832.7 732.8,1839.1 749.8,1820.0 766.7,1878.2 783.6,1881.8 800.5,1869.3 817.5,1857.1 834.4,1834.8 851.3,1860.9 868.2,1823.8 885.2,1840.6 902.1,1889.0 919.0,1912.4 935.9,1893.7 952.9,1959.6 969.8,1908.1 986.7,1865.5 1003.6,1874.6 1020.5,1916.5 1037.5,1903.3 1054.4,1922.0 1071.3,1912.4 1088.2,1919.6 1105.2,1893.7 1122.1,1921.3 1139.0,1918.2 1156.0,1968.5 1172.9,1961.3 1189.8,1936.4 1206.7,1855.4 1223.7,1872.2 1240.6,1898.5 1257.5,1866.2 1274.4,1904.5 1291.3,1875.8 1308.3,1893.3 1325.2,1894.2 1342.1,1894.9 1359.0,1885.4 1376.0,1853.5 1392.9,1841.0 1409.8,1860.9 1426.8,1843.4 1443.7,1874.6 1460.6,1831.5 1477.5,1900.5 1494.5,1914.1 1511.4,1879.4 1528.3,1853.5 1545.2,1848.2 1562.2,1847.5 1579.1,1835.8 1596.0,1844.6 1612.9,1879.4 1629.8,1843.0 1646.8,1844.2 1663.7,1830.3 1680.6,1821.9 1697.5,1806.3 1714.5,1860.2 1731.4,1860.9 1748.3,1843.0 1765.2,1802.2 1782.2,1821.4 1799.1,1843.4 1816.0,1826.2 1833.0,1794.3 1849.9,1788.3 1866.8,1811.8 1883.7,1800.3 1900.7,1801.0 1917.6,1809.4 1934.5,1783.5 1951.4,1781.6 1968.4,1819.0 1985.3,1789.5 2002.2,1797.9 2019.1,1819.5 2036.0,1835.8 2053.0,1847.0 2069.9,1805.6 2086.8,1796.0 2103.8,1814.7 2120.7,1860.9 2137.6,1833.9 2154.5,1839.1 2171.5,1841.5 2188.4,1803.9 2205.3,1788.8 2222.2,1794.3 2239.2,1797.9 2256.1,1781.1 2273.0,1769.6 2289.9,1817.1 2306.9,1853.5 2323.8,1838.6 2340.7,1809.9 2357.6,1819.5" stroke="#2563eb" stroke-width="6" stroke-linejoin="round" stroke-linecap="round"/>
 </g>
 <line x1="174.3" x2="2358" y1="2004.5" y2="2004.5" stroke="#e4e7ec" stroke-width="3"/>
</svg>
<ul class="abs" style="left:0.0px;top:650.0px;width:2184.0px;height:60.0px;">
<li class="t" style="left:72.68px;top:8.40px;font-size:36px;line-height:43px;font-weight:400;color:#535862;letter-spacing:-0.500px;-webkit-text-stroke:0.4px #535862;transform:scaleX(0.8800);transform-origin:0 0;">Jan</li>
<li class="t" style="left:242.05px;top:8.40px;font-size:36px;line-height:43px;font-weight:400;color:#535862;letter-spacing:-0.587px;-webkit-text-stroke:0.4px #535862;">Feb</li>
<li class="t" style="left:422.30px;top:8.40px;font-size:36px;line-height:43px;font-weight:400;color:#535862;letter-spacing:0.426px;-webkit-text-stroke:0.4px #535862;">Mar</li>
<li class="t" style="left:608.13px;top:8.40px;font-size:36px;line-height:43px;font-weight:400;color:#535862;letter-spacing:0.521px;-webkit-text-stroke:0.4px #535862;">Apr</li>
<li class="t" style="left:784.85px;top:8.40px;font-size:36px;line-height:43px;font-weight:400;color:#535862;letter-spacing:-0.494px;-webkit-text-stroke:0.4px #535862;">May</li>
<li class="t" style="left:974.62px;top:8.40px;font-size:36px;line-height:43px;font-weight:400;color:#535862;letter-spacing:-0.500px;-webkit-text-stroke:0.4px #535862;transform:scaleX(0.9185);transform-origin:0 0;">Jun</li>
<li class="t" style="left:1148.52px;top:8.40px;font-size:36px;line-height:43px;font-weight:400;color:#535862;letter-spacing:-0.500px;-webkit-text-stroke:0.4px #535862;transform:scaleX(0.9116);transform-origin:0 0;">Jul</li>
<li class="t" style="left:1311.48px;top:8.40px;font-size:36px;line-height:43px;font-weight:400;color:#535862;letter-spacing:0.417px;-webkit-text-stroke:0.4px #535862;">Aug</li>
<li class="t" style="left:1495.02px;top:8.40px;font-size:36px;line-height:43px;font-weight:400;color:#535862;letter-spacing:0.094px;-webkit-text-stroke:0.4px #535862;">Sep</li>
<li class="t" style="left:1679.43px;top:8.40px;font-size:36px;line-height:43px;font-weight:400;color:#535862;letter-spacing:0.360px;-webkit-text-stroke:0.4px #535862;transform:scaleX(1.0787);transform-origin:0 0;">Oct</li>
<li class="t" style="left:1861.30px;top:8.40px;font-size:36px;line-height:43px;font-weight:400;color:#535862;letter-spacing:-0.324px;-webkit-text-stroke:0.4px #535862;">Nov</li>
<li class="t" style="left:2045.80px;top:8.40px;font-size:36px;line-height:43px;font-weight:400;color:#535862;letter-spacing:0.189px;-webkit-text-stroke:0.4px #535862;">Dec</li>
</ul>
</figure>
<hr class="hr" style="left:0px;top:1285.5px;width:2184px">
<div class="btn" role="group" style="left:1.0px;top:1349.0px;width:1081.0px;height:118.0px;box-shadow:0 3px 6px rgba(10,13,18,.05);">
<button class="abs" type="button" style="left:0.0px;top:0.0px;width:288.0px;height:112.0px;background:#2563eb;border:0;border-radius:17px 0 0 17px;">
<span class="t" style="left:43.10px;top:35.58px;font-size:39.91px;line-height:48px;font-weight:400;color:#fff;letter-spacing:0.399px;-webkit-text-stroke:1.44px #fff;transform:scaleX(1.0348);transform-origin:0 0;">12 months</span>
</button>
<button class="abs" type="button" style="left:291.0px;top:0.0px;width:244.0px;height:112.0px;background:none;border:0;">
<span class="t" style="left:48.20px;top:35.58px;font-size:39.91px;line-height:48px;font-weight:400;color:#414651;letter-spacing:0.956px;-webkit-text-stroke:1.44px #414651;">30 days</span>
</button>
<button class="abs" type="button" style="left:538.0px;top:0.0px;width:212.6px;height:112.0px;background:none;border:0;">
<span class="t" style="left:45.67px;top:35.58px;font-size:39.91px;line-height:48px;font-weight:400;color:#414651;letter-spacing:0.231px;-webkit-text-stroke:1.44px #414651;">7 days</span>
</button>
<button class="abs" type="button" style="left:753.6px;top:0.0px;width:321.4px;height:112.0px;background:none;border:0;">
<svg style="left:40.4px;top:26px" width="60" height="60" viewBox="0 0 24 24" fill="none" stroke="#717680" stroke-width="2" stroke-linecap="round" stroke-linejoin="round"><path d="M12 5v14M5 12h14"/></svg>
<span class="t" style="left:123.97px;top:35.58px;font-size:39.91px;line-height:48px;font-weight:400;color:#414651;letter-spacing:0.399px;-webkit-text-stroke:1.44px #414651;transform:scaleX(1.0933);transform-origin:0 0;">Custom</span>
</button>
<i class="abs" style="left:288px;top:0px;width:3px;height:112px;background:#d5d7da"></i>
<i class="abs" style="left:535px;top:0px;width:3px;height:112px;background:#d5d7da"></i>
<i class="abs" style="left:750.6px;top:0px;width:3px;height:112px;background:#d5d7da"></i>
</div>
<button class="btn" type="button" style="left:1729.0px;top:1349.0px;width:455.0px;height:118.0px;">
<span class="t" style="left:45.67px;top:35.58px;font-size:39.91px;line-height:48px;font-weight:400;color:#414651;letter-spacing:0.399px;-webkit-text-stroke:1.44px #414651;transform:scaleX(1.0369);transform-origin:0 0;">Audience overview</span>
</button>
</section>
<section class="abs" style="left:2496.0px;top:854.0px;width:1180.0px;height:1500.0px;">
<h2 class="t" style="left:-0.23px;top:34.96px;font-size:52.27px;line-height:63px;font-weight:400;color:#181d27;letter-spacing:1.237px;-webkit-text-stroke:1.88px #181d27;">Traffic sources</h2>
<button class="abs" type="button" aria-label="Traffic sources options" style="left:1115.6px;top:22.0px;width:60.0px;height:60.0px;background:none;border:0;"><i class="dot" style="left:25.0px;top:7.8px"></i><i class="dot" style="left:25.0px;top:25.3px"></i><i class="dot" style="left:25.0px;top:42.6px"></i></button>
<hr class="hr" style="left:0px;top:165.5px;width:1176px">
<figure class="abs" style="left:0.0px;top:220.0px;width:1180.0px;height:1160.0px;">
<svg aria-hidden="true" style="left:-2502px;top:-1080px" width="3852" height="2406" viewBox="0 0 3852 2406" fill="none"><polygon points="3089.8,1594.9 3164.8,1631.0 3183.3,1712.1 3131.4,1777.2 3048.2,1777.2 2996.3,1712.1 3014.8,1631.0" stroke="#f3f1f1" stroke-width="2.6" fill="none"/><polygon points="3089.8,1498.9 3239.8,1571.2 3276.9,1733.5 3173.1,1863.7 3006.5,1863.7 2902.7,1733.5 2939.8,1571.2" stroke="#f3f1f1" stroke-width="2.6" fill="none"/><polygon points="3089.8,1403.0 3314.8,1511.3 3370.4,1754.8 3214.7,1950.1 2964.9,1950.1 2809.2,1754.8 2864.8,1511.3" stroke="#f3f1f1" stroke-width="2.6" fill="none"/><polygon points="3089.8,1307.0 3389.8,1451.5 3463.9,1776.2 3256.3,2036.6 2923.3,2036.6 2715.7,1776.2 2789.8,1451.5" stroke="#f3f1f1" stroke-width="2.6" fill="none"/><polygon points="3089.8,1211.1 3464.8,1391.7 3557.5,1797.5 3297.9,2123.0 2881.7,2123.0 2622.1,1797.5 2714.8,1391.7" stroke="#f3f1f1" stroke-width="2.6" fill="none"/><line x1="3089.8" y1="1690.8" x2="3089.8" y2="1211.1" stroke="#f3f1f1" stroke-width="2.6"/><line x1="3089.8" y1="1690.8" x2="3464.8" y2="1391.7" stroke="#f3f1f1" stroke-width="2.6"/><line x1="3089.8" y1="1690.8" x2="3557.5" y2="1797.5" stroke="#f3f1f1" stroke-width="2.6"/><line x1="3089.8" y1="1690.8" x2="3297.9" y2="2123.0" stroke="#f3f1f1" stroke-width="2.6"/><line x1="3089.8" y1="1690.8" x2="2881.7" y2="2123.0" stroke="#f3f1f1" stroke-width="2.6"/><line x1="3089.8" y1="1690.8" x2="2622.1" y2="1797.5" stroke="#f3f1f1" stroke-width="2.6"/><line x1="3089.8" y1="1690.8" x2="2714.8" y2="1391.7" stroke="#f3f1f1" stroke-width="2.6"/></svg>
<span class="pill" style="left:522.3px;top:105.0px;width:137.3px;height:66.0px;">
<span class="t" style="left:19.63px;top:11.05px;font-size:35px;line-height:42px;font-weight:400;color:#414651;letter-spacing:0.786px;-webkit-text-stroke:0.5px #414651;">1,000</span>
</span>
<span class="pill" style="left:531.3px;top:201.1px;width:116.0px;height:66.0px;">
<span class="t" style="left:21.72px;top:11.05px;font-size:35px;line-height:42px;font-weight:400;color:#414651;letter-spacing:0.350px;-webkit-text-stroke:0.5px #414651;transform:scaleX(1.1232);transform-origin:0 0;">800</span>
</span>
<span class="pill" style="left:531.3px;top:297.2px;width:116.0px;height:66.0px;">
<span class="t" style="left:21.43px;top:11.05px;font-size:35px;line-height:42px;font-weight:400;color:#414651;letter-spacing:0.350px;-webkit-text-stroke:0.5px #414651;transform:scaleX(1.1283);transform-origin:0 0;">600</span>
</span>
<span class="pill" style="left:531.3px;top:393.3px;width:116.0px;height:66.0px;">
<span class="t" style="left:22.13px;top:11.05px;font-size:35px;line-height:42px;font-weight:400;color:#414651;letter-spacing:0.350px;-webkit-text-stroke:0.5px #414651;transform:scaleX(1.1231);transform-origin:0 0;">400</span>
</span>
<span class="pill" style="left:531.3px;top:489.4px;width:116.0px;height:66.0px;">
<span class="t" style="left:21.82px;top:11.05px;font-size:35px;line-height:42px;font-weight:400;color:#414651;letter-spacing:0.350px;-webkit-text-stroke:0.5px #414651;transform:scaleX(1.1156);transform-origin:0 0;">200</span>
</span>
<svg role="img" aria-label="Traffic sources by weekday" style="left:-2502px;top:-1080px" width="3852" height="2406" viewBox="0 0 3852 2406" stroke-width="6" stroke-linejoin="round">
 <polygon points="3092.2,1411.6 3389.8,1451.5 3276.9,1733.5 3256.3,2036.6 2964.9,1950.1 2809.2,1754.8 2789.8,1451.5" fill="#0ba5ec" fill-opacity=".2" stroke="#0ba5ec"/>
 <polygon points="3092.2,1507.0 3464.8,1391.7 3183.3,1712.1 3214.7,1950.1 3048.2,1777.2 2715.7,1776.2 2714.8,1391.7" fill="#6927da" fill-opacity=".14" stroke="#6927da"/>
 <polygon points="3092.2,1316.2 3314.8,1511.3 3370.4,1754.8 3131.4,1777.2 3006.5,1863.7 2622.1,1797.5 2939.8,1571.2" fill="#fac515" fill-opacity=".2" stroke="#fac515"/>
</svg>
<span class="t" style="left:543.63px;top:17.25px;font-size:42px;line-height:50px;font-weight:400;color:#535862;letter-spacing:0.420px;-webkit-text-stroke:0.5px #535862;transform:scaleX(1.0537);transform-origin:0 0;">Mon</span>
<span class="t" style="left:114.34px;top:248.25px;font-size:42px;line-height:50px;font-weight:400;color:#535862;letter-spacing:-0.599px;-webkit-text-stroke:0.5px #535862;">Sun</span>
<span class="t" style="left:989.71px;top:248.25px;font-size:42px;line-height:50px;font-weight:400;color:#535862;letter-spacing:-0.653px;-webkit-text-stroke:0.5px #535862;">Tue</span>
<span class="t" style="left:29.14px;top:736.75px;font-size:42px;line-height:50px;font-weight:400;color:#535862;letter-spacing:-0.266px;-webkit-text-stroke:0.5px #535862;">Sat</span>
<span class="t" style="left:1077.07px;top:736.75px;font-size:42px;line-height:50px;font-weight:400;color:#535862;letter-spacing:0.395px;-webkit-text-stroke:0.5px #535862;">Wed</span>
<span class="t" style="left:313.80px;top:1076.75px;font-size:42px;line-height:50px;font-weight:400;color:#535862;letter-spacing:0.650px;-webkit-text-stroke:0.5px #535862;">Fri</span>
<span class="t" style="left:810.31px;top:1076.75px;font-size:42px;line-height:50px;font-weight:400;color:#535862;letter-spacing:0.127px;-webkit-text-stroke:0.5px #535862;">Thu</span>
</figure>
</section>
</main>
</div>
</body>
</html>
